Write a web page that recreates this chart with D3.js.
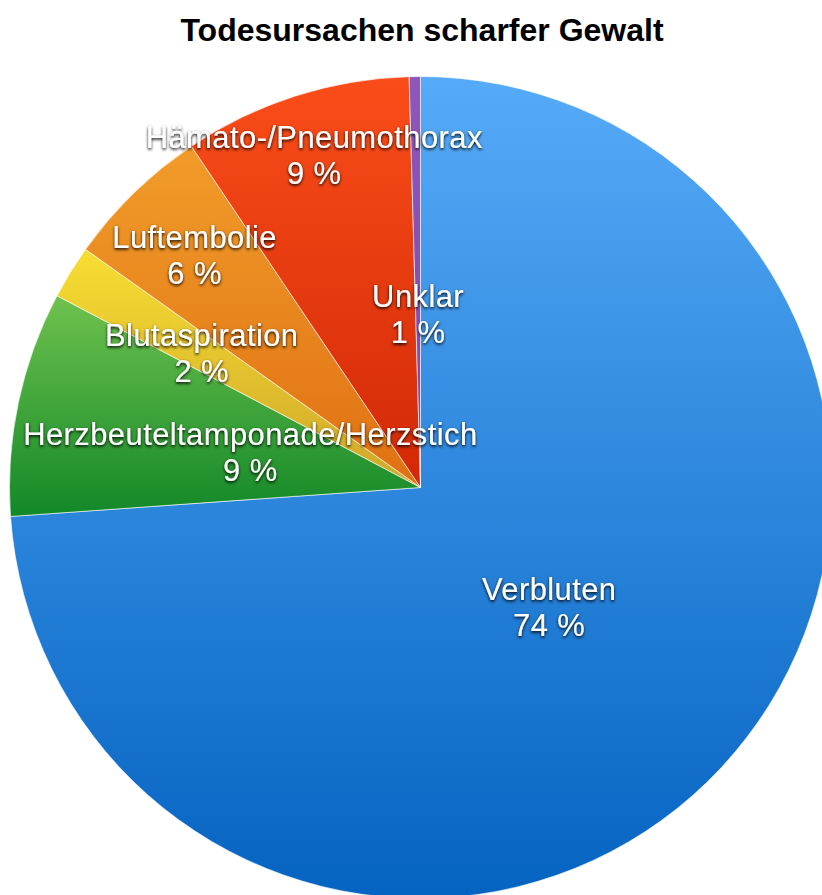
<!DOCTYPE html>
<html>
<head>
<meta charset="utf-8">
<script src="https://cdn.jsdelivr.net/npm/d3@7"></script>
<style>
  body { margin: 0; background: #fff; }
  svg text { font-family: "Liberation Sans", Arial, Helvetica, sans-serif; }
</style>
</head>
<body>
<div id="chart"></div>
<script>
// --- Todesursachen scharfer Gewalt ---
const causes = ["Verbluten", "Herzbeuteltamponade/Herzstich", "Blutaspiration", "Luftembolie", "Hämato-/Pneumothorax", "Unklar"];
const shares = [73.87, 8.85, 2.11, 5.75, 8.97, 0.44];
const pctLabels = ["74 %", "9 %", "2 %", "6 %", "9 %", "1 %"];

// gradient top / bottom colours per slice
const topColors = ["#56abf8", "#6fc24e", "#f7de32", "#f19c2a", "#fa4d19", "#8e58ba"];
const bottomColors = ["#0563c1", "#128828", "#cfa62a", "#e07012", "#d22806", "#7a48a8"];
// label distance from centre, as a share of the radius
const labelRadius = [0.428, 0.423, 0.625, 0.788, 0.849, 0.423];

const width = 822, height = 895;
const cx = 420.5, cy = 487.5, radius = 411;

const svg = d3.select("#chart")
    .append("svg")
    .attr("width", width)
    .attr("height", height);

const defs = svg.append("defs");

const data = causes.map((c, i) => ({ cause: c, value: shares[i], pct: pctLabels[i], i }));

data.forEach(d => {
    const g = defs.append("linearGradient")
        .attr("id", `grad-${d.i}`)
        .attr("x1", 0).attr("y1", 0)
        .attr("x2", 0).attr("y2", 1);
    g.append("stop").attr("offset", "0%").attr("stop-color", topColors[d.i]);
    g.append("stop").attr("offset", "100%").attr("stop-color", bottomColors[d.i]);
});

const shadow = defs.append("filter")
    .attr("id", "txtShadow")
    .attr("x", "-10%").attr("y", "-30%")
    .attr("width", "120%").attr("height", "160%");
shadow.append("feDropShadow")
    .attr("dx", 0).attr("dy", 1.5)
    .attr("stdDeviation", 1.7)
    .attr("flood-color", "#000")
    .attr("flood-opacity", 1);

svg.append("text")
    .attr("x", 422)
    .attr("y", 41)
    .attr("text-anchor", "middle")
    .attr("font-size", 32)
    .attr("font-weight", "bold")
    .attr("fill", "#000")
    .text("Todesursachen scharfer Gewalt");

const pie = d3.pie().sort(null).value(d => d.value);
const arcs = pie(data);

const arc = d3.arc().innerRadius(0).outerRadius(radius);

const g = svg.append("g").attr("transform", `translate(${cx},${cy})`);

g.selectAll("path.slice")
    .data(arcs)
    .enter()
    .append("path")
    .attr("class", "slice")
    .attr("d", arc)
    .attr("fill", d => `url(#grad-${d.data.i})`)
    .attr("stroke", "rgba(255,255,255,0.75)")
    .attr("stroke-width", 0.8)
    .attr("stroke-linejoin", "round");

const labels = g.selectAll("g.label")
    .data(arcs)
    .enter()
    .append("g")
    .attr("class", "label")
    .attr("filter", "url(#txtShadow)")
    .attr("transform", d => {
        const r = radius * labelRadius[d.data.i];
        const la = d3.arc().innerRadius(r).outerRadius(r);
        const [x, y] = la.centroid(d);
        return `translate(${x},${y})`;
    });

labels.append("text")
    .attr("text-anchor", "middle")
    .attr("y", -7)
    .attr("font-size", 31)
    .attr("letter-spacing", 0.4)
    .attr("fill", "#fff")
    .text(d => d.data.cause);

labels.append("text")
    .attr("text-anchor", "middle")
    .attr("y", 29)
    .attr("font-size", 31)
    .attr("letter-spacing", 0.4)
    .attr("fill", "#fff")
    .text(d => d.data.pct);
</script>
</body>
</html>
